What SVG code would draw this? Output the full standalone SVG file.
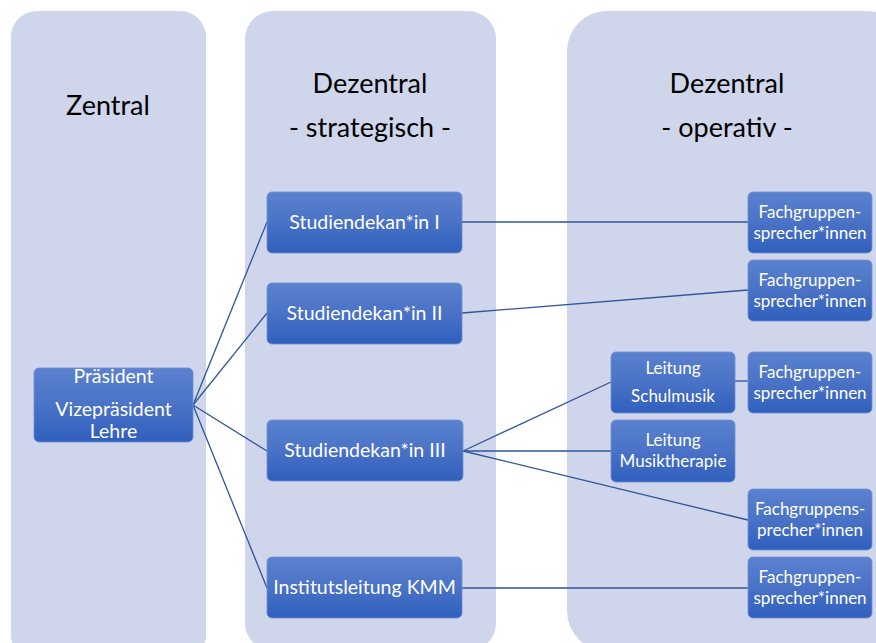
<svg xmlns="http://www.w3.org/2000/svg" width="876" height="643" viewBox="0 0 876 643">
<defs>
<linearGradient id="g" x1="0" y1="0" x2="0" y2="1">
<stop offset="0" stop-color="#5b82cf"/>
<stop offset="0.5" stop-color="#4a72c6"/>
<stop offset="1" stop-color="#2f5fbd"/>
</linearGradient>
</defs>
<style>
.col{fill:#cfd5ea}
.box{fill:url(#g);stroke:#6f8fd4;stroke-width:0.8}
.h{font-family:Lato,"Liberation Sans",sans-serif;font-size:27px;fill:#000;text-anchor:middle}
.t{font-family:Lato,"Liberation Sans",sans-serif;font-size:19.5px;fill:#fff;text-anchor:middle}
.s{font-family:Lato,"Liberation Sans",sans-serif;font-size:17px;fill:#fff;text-anchor:middle}
.c{stroke:#2f5597;stroke-width:1.3;fill:none}
</style>
<rect width="876" height="643" fill="#fff"/>
<g id="columns">
<rect class="col" x="11" y="11" width="195" height="650" rx="26"/>
<rect class="col" x="245" y="11" width="251" height="640" rx="28"/>
<rect class="col" x="567" y="11" width="340" height="640" rx="40"/>
<text class="h" x="108" y="115">Zentral</text>
<text class="h" x="370" y="93">Dezentral</text>
<text class="h" x="370" y="137">- strategisch -</text>
<text class="h" x="727" y="93">Dezentral</text>
<text class="h" x="727" y="137">- operativ -</text>
</g>
<g id="connectors">
<line class="c" x1="193" y1="405" x2="267" y2="222"/>
<line class="c" x1="193" y1="405" x2="267" y2="313"/>
<line class="c" x1="193" y1="405" x2="267" y2="451"/>
<line class="c" x1="193" y1="405" x2="267" y2="588"/>
<line class="c" x1="462" y1="222" x2="748" y2="222"/>
<line class="c" x1="462" y1="313" x2="748" y2="290"/>
<line class="c" x1="463" y1="451" x2="611" y2="382"/>
<line class="c" x1="463" y1="451" x2="611" y2="451"/>
<line class="c" x1="463" y1="451" x2="748" y2="520"/>
<line class="c" x1="735" y1="381" x2="748" y2="381"/>
<line class="c" x1="462" y1="588" x2="748" y2="588"/>
</g>
<g id="praesident">
<rect class="box" x="34" y="368" width="159" height="74" rx="5"/>
<text class="t" x="113.5" y="383">Präsident</text>
<text class="t" x="113.5" y="416">Vizepräsident</text>
<text class="t" x="113.5" y="438">Lehre</text>
</g>
<g id="sd1">
<rect class="box" x="267" y="192" width="195" height="61" rx="5"/>
<text class="t" x="364.5" y="229">Studiendekan*in I</text>
</g>
<g id="sd2">
<rect class="box" x="267" y="283" width="195" height="61" rx="5"/>
<text class="t" x="364.5" y="320">Studiendekan*in II</text>
</g>
<g id="sd3">
<rect class="box" x="267" y="420" width="196" height="61" rx="5"/>
<text class="t" x="365" y="457">Studiendekan*in III</text>
</g>
<g id="ikmm">
<rect class="box" x="267" y="557" width="195" height="61" rx="5"/>
<text class="t" x="364.5" y="594">Institutsleitung KMM</text>
</g>
<g id="fg1">
<rect class="box" x="748" y="192" width="124" height="61" rx="5"/>
<text class="s" x="810" y="218">Fachgruppen-</text>
<text class="s" x="810" y="239">sprecher*innen</text>
</g>
<g id="fg2">
<rect class="box" x="748" y="260" width="124" height="61" rx="5"/>
<text class="s" x="810" y="286">Fachgruppen-</text>
<text class="s" x="810" y="307">sprecher*innen</text>
</g>
<g id="schulmusik">
<rect class="box" x="611" y="352" width="124" height="61" rx="5"/>
<text class="s" x="673" y="374">Leitung</text>
<text class="s" x="673" y="402">Schulmusik</text>
</g>
<g id="fg3">
<rect class="box" x="748" y="352" width="124" height="61" rx="5"/>
<text class="s" x="810" y="378">Fachgruppen-</text>
<text class="s" x="810" y="399">sprecher*innen</text>
</g>
<g id="musiktherapie">
<rect class="box" x="611" y="420" width="124" height="62" rx="5"/>
<text class="s" x="673" y="446">Leitung</text>
<text class="s" x="673" y="467">Musiktherapie</text>
</g>
<g id="fg4">
<rect class="box" x="748" y="489" width="124" height="61" rx="5"/>
<text class="s" x="810" y="515">Fachgruppens-</text>
<text class="s" x="810" y="536">precher*innen</text>
</g>
<g id="fg5">
<rect class="box" x="748" y="557" width="124" height="61" rx="5"/>
<text class="s" x="810" y="583">Fachgruppen-</text>
<text class="s" x="810" y="604">sprecher*innen</text>
</g>
</svg>
